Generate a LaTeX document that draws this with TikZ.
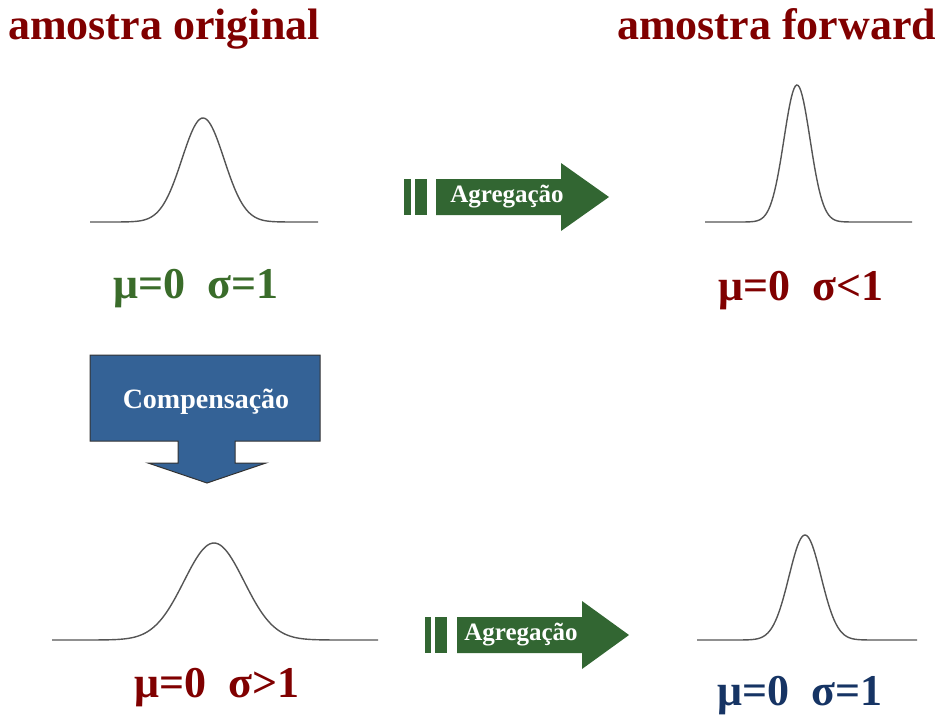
\documentclass[tikz,border=0pt]{standalone}
\usepackage{fontspec}
\setmainfont{Liberation Serif}
\usetikzlibrary{positioning}
\definecolor{titlered}{RGB}{128,0,0}
\definecolor{statgreen}{RGB}{58,108,42}
\definecolor{statblue}{RGB}{22,52,100}
\definecolor{aggreen}{RGB}{50,102,50}
\definecolor{compblue}{RGB}{52,98,150}
\definecolor{curvegray}{RGB}{85,85,85}
% bell curve: left, right, centre, base, height, sigma
\newcommand{\bellcurve}[6]{%
  \draw[curve] plot[domain=#1:#2, samples=150] (\x, {#4 - #5*exp(-((\x-#3)/#6)^2/2)});}

\begin{document}
\begin{tikzpicture}[x=1pt, y=-1pt,
    title/.style={font=\fontsize{44}{48}\selectfont\bfseries, text=titlered, inner sep=0pt, anchor=base west},
    stat/.style={font=\fontsize{44}{46}\selectfont\bfseries, inner sep=0pt, anchor=base},
    curve/.style={draw=curvegray, line width=1.4pt},
    aggarrow/.style={fill=aggreen, draw=none},
    aggtext/.style={text=white, font=\fontsize{25}{27}\selectfont\bfseries, inner sep=0pt},
    comptext/.style={text=white, font=\fontsize{28}{30}\selectfont\bfseries, inner sep=0pt}]
    \useasboundingbox (0,0) rectangle (939,717);

    % titles
    \node [title] (orig) at (8,40) {amostra original};
    \node [title] (fwd) at (617,40) {amostra forward};

    % curves
    \bellcurve{90}{318}{203}{222}{104}{21}
    \bellcurve{705}{912}{797}{222}{137}{13}
    \bellcurve{52}{378}{214}{640}{97}{30}
    \bellcurve{697}{917}{805}{640}{105}{16}

    % statistics
    \node [stat, text=statgreen] (stat1) at (196,298) {μ=0\enspace σ=1};
    \node [stat, text=titlered] (stat2) at (801,300) {μ=0\enspace σ<1};
    \node [stat, text=titlered] (stat3) at (217,697) {μ=0\enspace σ>1};
    \node [stat, text=statblue] (stat4) at (800,705) {μ=0\enspace σ=1};

    % aggregation arrow (top)
    \fill [aggarrow] (404,179) rectangle (411,215);
    \fill [aggarrow] (415,179) rectangle (427,215);
    \fill [aggarrow] (436,179) -- (561,179) -- (561,163) -- (609,197) -- (561,231)
        -- (561,215) -- (436,215) -- cycle;
    \node [aggtext] (agg1) at (507,197) {Agregação};

    % aggregation arrow (bottom)
    \fill [aggarrow] (425,617) rectangle (431,653);
    \fill [aggarrow] (435,617) rectangle (447,653);
    \fill [aggarrow] (457,617) -- (582,617) -- (582,601) -- (629,635) -- (582,669)
        -- (582,653) -- (457,653) -- cycle;
    \node [aggtext] (agg2) at (521,635) {Agregação};

    % compensation arrow
    \filldraw [fill=compblue, draw=black!80, line width=1pt] (90,355) -- (320,355) -- (320,441)
        -- (235,441) -- (235,463) -- (266,463) -- (207,483) -- (148,463) -- (178,463)
        -- (178,441) -- (90,441) -- cycle;
    \node [comptext] (comp) at (206,402) {Compensação};
\end{tikzpicture}
\end{document}
